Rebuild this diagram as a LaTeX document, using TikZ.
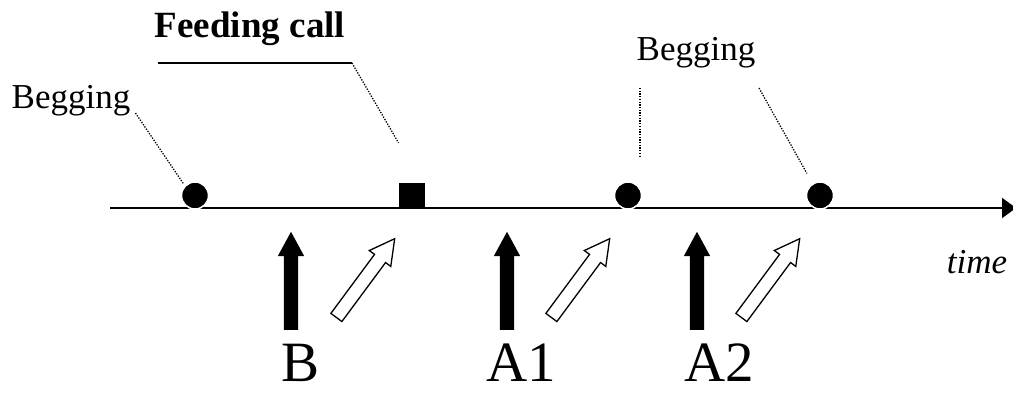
\documentclass[tikz,border=0pt]{standalone}
\usepackage{fontspec}
\setmainfont{Liberation Serif}
\usepackage{xcolor}
\usepackage{tikz}
\usetikzlibrary{arrows, shapes, shapes.arrows, positioning, arrows.meta, calc}

\tikzstyle{event} = [circle, fill=black, draw=white, line width=1.5pt, inner sep=0pt, minimum size=27pt]
\tikzstyle{callbox} = [rectangle, fill=black, inner sep=0pt, minimum size=26pt]
\tikzstyle{leader} = [line width=1.3pt, dash pattern=on 1.3pt off 1.4pt]
\tikzstyle{timeline} = [line width=2pt, -{Triangle[width=20pt,length=14pt]}]
\tikzstyle{playback} = [single arrow, fill=black, inner xsep=0pt, inner ysep=7pt,
  single arrow head extend=6pt, single arrow tip angle=57, minimum height=98pt, anchor=tail]
\tikzstyle{reply} = [single arrow, draw=black, fill=white, line width=1.3pt, inner xsep=0pt, inner ysep=6.2pt,
  single arrow head extend=6.5pt, single arrow tip angle=57, minimum height=98pt, anchor=tail]
\tikzstyle{small} = [font=\fontsize{35}{40}\selectfont, inner sep=0pt, anchor=base]
\tikzstyle{big} = [font=\fontsize{57}{62}\selectfont, inner sep=0pt, anchor=base]

\begin{document}
\begin{tikzpicture}[x=1pt, y=-1pt]
        \useasboundingbox (0,0) rectangle (1013,397);

        % time axis
        \coordinate (t0) at (110,208);
        \coordinate (t1) at (1016,208);
        \draw[timeline] (t0) -- (t1);
        \node[small, font=\itshape\fontsize{35}{40}\selectfont] (timeLabel) at (977,273) {time};

        % calls along the axis
        \node[event] (beg1) at (195,195.5) {};
        \node[callbox] (feed) at (411.5,196) {};
        \node[event] (beg2) at (628,195.5) {};
        \node[event] (beg3) at (820,195.5) {};

        % labels and leaders
        \node[small] (begLeft) at (71,108) {Begging};
        \node[small, font=\bfseries\fontsize{37}{44}\selectfont] (feedLabel) at (250,37) {Feeding call};
        \node[small] (begRight) at (696,60) {Begging};

        \coordinate (u0) at (158,63);
        \coordinate (u1) at (352,63);
        \draw[line width=1.5pt] (u0) -- (u1);
        \draw[leader] (u1) -- ($(feed.north)+(-13,-40)$);
        \draw[leader] ($(begLeft.base east)+(5,5)$) -- ($(beg1.north west)+(-1,-1)$);
        \coordinate (r0) at (640,88);
        \coordinate (r1) at (759,88);
        \draw[leader] (r0) -- ++(0,70);
        \draw[leader] (r1) -- ($(beg3.north west)+(-3,-12)$);

        % playbacks and responses
        \node[playback, rotate=90] (pB) at (291,330) {};
        \node[playback, rotate=90] (pA1) at (507,330) {};
        \node[playback, rotate=90] (pA2) at (697,330) {};
        \node[reply, rotate=53.5] (rB) at (336,318) {};
        \node[reply, rotate=53.5] (rA1) at (551,318) {};
        \node[reply, rotate=53.5] (rA2) at (741,318) {};

        \node[big] (labB) at (301,381) {B};
        \node[big] (labA1) at (521,381) {A1};
        \node[big] (labA2) at (719,381) {A2};
\end{tikzpicture}
\end{document}
